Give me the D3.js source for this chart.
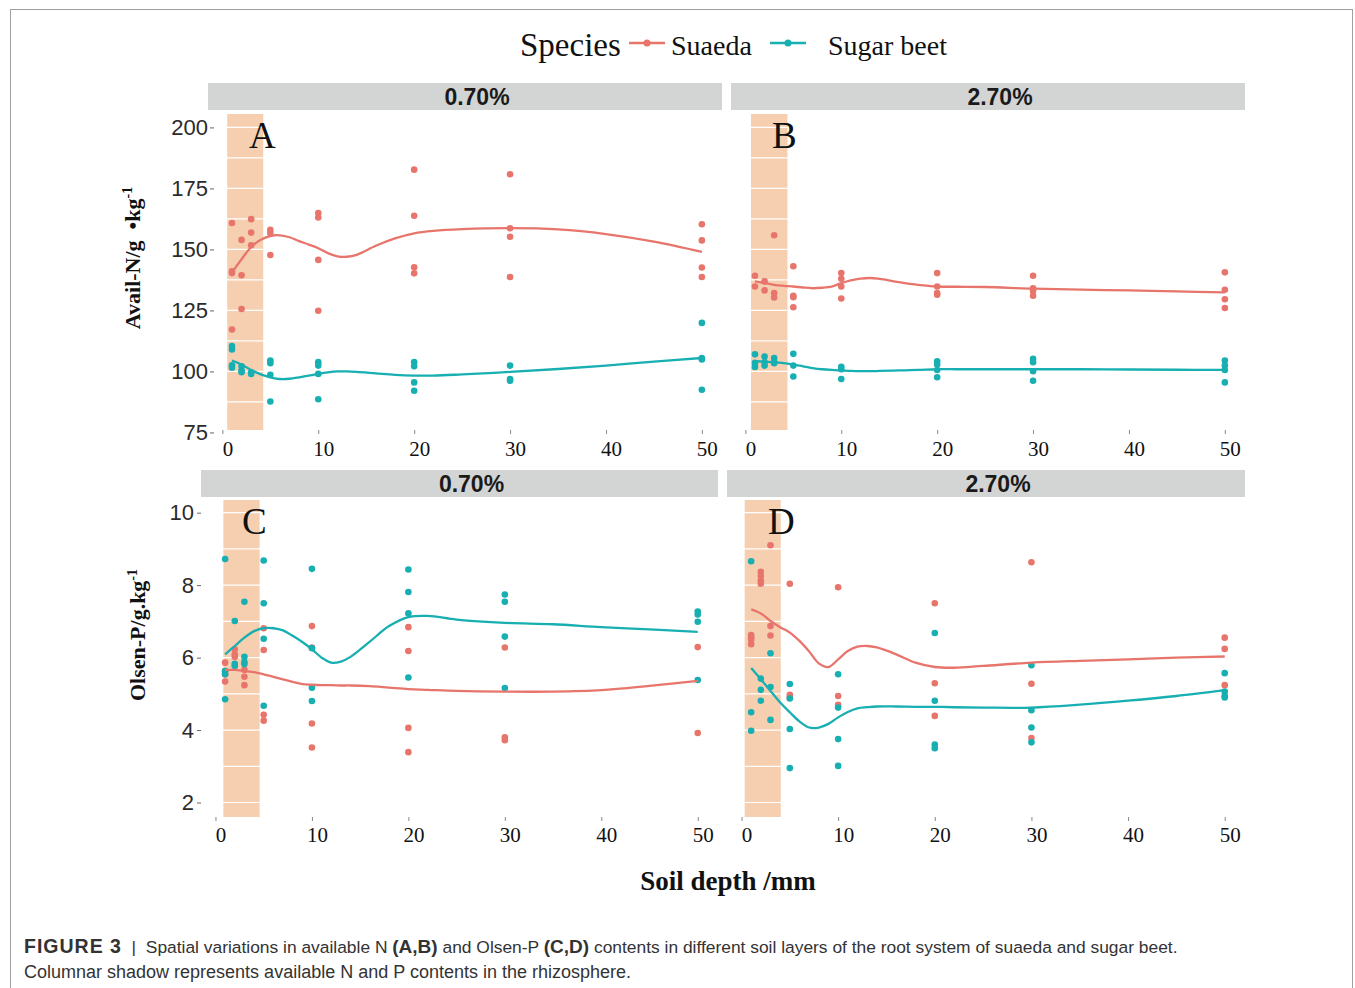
<!DOCTYPE html>
<html>
<head>
<meta charset="utf-8">
<script src="https://cdn.jsdelivr.net/npm/d3@7/dist/d3.min.js"></script>
<style>
  body { margin: 0; background: #fff; }
  text { white-space: pre; }
</style>
</head>
<body>
<svg id="fig" width="1355" height="988"></svg>
<script>
// ---- data ----
var depths = [1, 2, 3, 5, 10, 20, 30, 50];
var salinity = ["0.70%", "2.70%"];
var species = ["Suaeda", "Sugar beet"];
var panelLetters = ["A", "B", "C", "D"];
var xTicks = [0, 10, 20, 30, 40, 50];
var nTicks = [75, 100, 125, 150, 175, 200];
var pTicks = [2, 4, 6, 8, 10];
// rhizosphere shadow (depth range) per panel
var shadeA = [0.5, 4.26], shadeB = [0.58, 4.39], shadeC = [0.82, 4.58], shadeD = [0.33, 4.06];

// replicate measurements, one list per depth
var nSuaeda07 = [[160.8, 140.3, 141.0, 117.2], [153.9, 139.4, 125.6], [162.4, 156.9, 151.7], [158.0, 156.6, 147.7],
  [164.9, 163.1, 145.7, 124.9], [182.7, 163.8, 142.7, 140.2], [180.8, 158.7, 155.2, 138.7], [160.3, 153.7, 142.6, 138.7]];
var nBeet07 = [[110.4, 109.0, 101.5, 102.5], [102.1, 100.4, 99.7], [99.6, 99.0], [104.5, 103.4, 98.6, 87.7],
  [103.8, 102.4, 99.0, 88.6], [103.8, 102.1, 95.5, 92.1], [102.4, 96.9, 96.2], [119.9, 105.5, 104.9, 92.5]];
var nSuaeda27 = [[139.2, 134.8], [136.9, 133.2], [155.8, 132.1, 130.3], [143.1, 131.0, 130.4, 126.3],
  [140.3, 138.0, 134.8, 129.9], [140.3, 134.8, 132.1, 131.4], [139.2, 134.1, 133.0, 131.0], [140.6, 133.5, 129.6, 126.0]];
var nBeet27 = [[107.0, 101.8, 103.5], [106.1, 103.8, 102.4], [105.5, 103.8, 103.4], [107.2, 102.4, 97.9],
  [101.9, 100.9, 96.9], [104.2, 102.8, 100.6, 97.6], [105.2, 103.8, 100.1, 96.2], [104.5, 102.4, 100.6, 95.5]];
var pSuaeda07 = [[5.86, 5.54, 5.34, 5.63], [6.23, 6.09, 6.02], [5.66, 5.47, 5.24], [6.81, 6.21, 4.42, 4.26],
  [6.87, 6.28, 4.18, 3.52], [6.84, 6.18, 4.06, 3.39], [6.28, 3.80, 3.72], [6.29, 3.92]];
var pBeet07 = [[8.72, 5.63, 5.54, 4.85], [7.01, 5.83, 5.77], [7.54, 6.02, 5.88, 5.82], [8.68, 7.50, 6.52, 4.67],
  [8.45, 6.26, 5.17, 4.80], [8.43, 7.81, 7.22, 5.45], [7.74, 7.54, 6.58, 5.16], [7.27, 7.19, 6.99, 5.38]];
var pSuaeda27 = [[6.62, 6.50, 6.37, 6.55], [8.37, 8.25, 8.13, 8.04], [9.10, 6.87, 6.61], [8.04, 4.97, 4.90],
  [7.94, 4.94, 4.70], [7.50, 5.29, 4.39], [8.63, 5.28, 3.78], [6.55, 6.24, 5.24]];
var pBeet27 = [[8.66, 4.49, 3.98], [5.42, 5.11, 4.81], [6.12, 5.19, 4.28], [5.27, 4.87, 4.03, 2.95],
  [5.54, 4.62, 3.75, 3.01], [6.68, 4.81, 3.60, 3.50], [5.79, 4.55, 4.07, 3.66], [5.57, 5.06, 4.94, 4.90]];

// smoothed (loess) curves
var fitDepths = [1, 2, 3, 4, 5, 6, 7, 8, 9, 10, 11, 12, 13, 14, 16, 18, 20, 22, 25, 30, 35, 40, 45, 50];
var nSuaeda07Fit = [140.6, 146, 151, 154, 155.5, 155.8, 155, 153.4, 152, 150.5, 148.5, 147.2, 147, 147.8, 151.5, 154.5, 156.6, 157.6, 158.3, 158.7, 158.2, 156.3, 153.2, 149];
var nBeet07Fit = [104.5, 102.8, 100.6, 98.8, 97.6, 96.9, 97, 97.6, 98.3, 99, 99.6, 100, 100, 99.8, 99.2, 98.6, 98.3, 98.3, 98.8, 99.8, 101, 102.4, 104, 105.5];
var nSuaeda27Fit = [136.9, 136.2, 135.5, 135.1, 134.8, 134.4, 134.1, 134.3, 134.8, 136.2, 137.3, 138, 138.3, 137.9, 136.6, 135.5, 134.8, 134.7, 134.6, 133.9, 133.5, 133.2, 132.8, 132.4];
var nBeet27Fit = [104.2, 104, 103.8, 103.4, 102.8, 102.1, 101.4, 100.9, 100.6, 100.4, 100.2, 100.1, 100.1, 100.2, 100.4, 100.6, 100.9, 100.9, 100.9, 100.9, 100.9, 100.8, 100.7, 100.6];
var pSuaeda07Fit = [5.66, 5.66, 5.63, 5.6, 5.54, 5.47, 5.4, 5.33, 5.27, 5.25, 5.24, 5.24, 5.23, 5.23, 5.21, 5.17, 5.13, 5.11, 5.08, 5.06, 5.06, 5.1, 5.22, 5.36];
var pBeet07Fit = [6.09, 6.32, 6.55, 6.73, 6.81, 6.81, 6.75, 6.6, 6.43, 6.23, 6.0, 5.86, 5.89, 6.02, 6.44, 6.87, 7.12, 7.15, 7.05, 6.96, 6.92, 6.84, 6.78, 6.71];
var pSuaeda27Fit = [7.33, 7.22, 7.01, 6.84, 6.69, 6.46, 6.17, 5.84, 5.74, 5.95, 6.18, 6.3, 6.32, 6.28, 6.09, 5.86, 5.74, 5.72, 5.77, 5.86, 5.91, 5.95, 6.0, 6.03];
var pBeet27Fit = [5.71, 5.4, 5.08, 4.76, 4.49, 4.24, 4.07, 4.07, 4.17, 4.35, 4.5, 4.6, 4.63, 4.65, 4.65, 4.64, 4.64, 4.63, 4.62, 4.62, 4.7, 4.81, 4.94, 5.1];

// ---- look ----
var colors = ["#e8756c", "#17afb1"];
var serif = '"Liberation Serif", "Times New Roman", serif';
var sans = '"Liberation Sans", Arial, sans-serif';
var narrow = '"Liberation Sans Narrow", "Liberation Sans", Arial, sans-serif';

var svg = d3.select("#fig");

// figure frame
svg.append("rect")
  .attr("x", 10.5).attr("y", 9.5).attr("width", 1342).attr("height", 1000)
  .attr("fill", "none").attr("stroke", "#a0a0a0").attr("stroke-width", 1);

var panels = [
  { left: 208, right: 722, top: 114, bottom: 430, strip: 83, yDom: [76, 205.5], ticks: nTicks, shade: shadeA, sal: 0, pts: [nSuaeda07, nBeet07], fit: [nSuaeda07Fit, nBeet07Fit] },
  { left: 731, right: 1245, top: 114, bottom: 430, strip: 83, yDom: [76, 205.5], ticks: nTicks, shade: shadeB, sal: 1, pts: [nSuaeda27, nBeet27], fit: [nSuaeda27Fit, nBeet27Fit] },
  { left: 201, right: 718, top: 500, bottom: 817, strip: 470, yDom: [1.6, 10.35], ticks: pTicks, shade: shadeC, sal: 0, pts: [pSuaeda07, pBeet07], fit: [pSuaeda07Fit, pBeet07Fit] },
  { left: 727, right: 1245, top: 500, bottom: 817, strip: 470, yDom: [1.6, 10.35], ticks: pTicks, shade: shadeD, sal: 1, pts: [pSuaeda27, pBeet27], fit: [pSuaeda27Fit, pBeet27Fit] }
];

panels.forEach(function (p, i) {
  var x = d3.scaleLinear().domain([-1.5, 52.1]).range([p.left, p.right]);
  var y = d3.scaleLinear().domain(p.yDom).range([p.bottom, p.top]);
  var g = svg.append("g");
  var topRow = p.top < 300;

  // strip
  g.append("rect")
    .attr("x", p.left).attr("y", p.strip)
    .attr("width", p.right - p.left).attr("height", 27)
    .attr("fill", "#d3d4d4");
  g.append("text")
    .attr("x", (p.left + p.right) / 2 + 12).attr("y", p.strip + 22)
    .attr("text-anchor", "middle")
    .attr("font-family", narrow).attr("font-weight", "bold").attr("font-size", 23)
    .attr("fill", "#1a1a1a")
    .text(salinity[p.sal]);

  // rhizosphere shadow
  g.append("rect")
    .attr("x", x(p.shade[0])).attr("y", p.top)
    .attr("width", x(p.shade[1]) - x(p.shade[0])).attr("height", p.bottom - p.top)
    .attr("fill", "#f6cfb0");

  // white grid (only shows on the shadow)
  var step = p.ticks[1] - p.ticks[0];
  var gridY = [];
  p.ticks.forEach(function (t) { gridY.push(t); gridY.push(t + step / 2); });
  gridY = gridY.filter(function (v) { return v > p.yDom[0] && v < p.yDom[1]; });
  g.selectAll(".gy").data(gridY).enter().append("line")
    .attr("x1", p.left).attr("x2", p.right)
    .attr("y1", function (d) { return y(d); }).attr("y2", function (d) { return y(d); })
    .attr("stroke", "#fff").attr("stroke-width", 1.2);

  // y axis only on the left column
  if (i % 2 === 0) {
    var ya = g.append("g").attr("transform", "translate(" + (topRow ? p.left + 6 : p.left) + ",0)")
      .call(d3.axisLeft(y).tickValues(p.ticks).tickSize(4).tickPadding(topRow ? 2 : 3));
    ya.select(".domain").remove();
    ya.selectAll("line").attr("stroke", "#666");
    ya.selectAll("text").attr("font-family", sans).attr("font-size", 22).attr("fill", "#2b2b2b");
  }

  var xa = g.append("g").attr("transform", "translate(0," + p.bottom + ")")
    .call(d3.axisBottom(x).tickValues(xTicks).tickSize(4).tickPadding(topRow ? 7 : 6));
  xa.select(".domain").remove();
  xa.selectAll("line").attr("stroke", "#888");
  xa.selectAll("text").attr("font-family", serif).attr("font-size", 21).attr("fill", "#111")
    .attr("dx", 5);

  // points
  p.pts.forEach(function (series, s) {
    var flat = [];
    series.forEach(function (vals, k) {
      vals.forEach(function (v) { flat.push([depths[k], v]); });
    });
    g.selectAll(".pt" + s).data(flat).enter().append("circle")
      .attr("cx", function (d) { return x(d[0]); })
      .attr("cy", function (d) { return y(d[1]); })
      .attr("r", 3.3)
      .attr("fill", colors[s]);
  });

  // smooth lines
  var line = d3.line()
    .x(function (d, k) { return x(fitDepths[k]); })
    .y(function (d) { return y(d); })
    .curve(d3.curveCatmullRom);
  p.fit.forEach(function (f, s) {
    g.append("path").attr("d", line(f))
      .attr("fill", "none").attr("stroke", colors[s]).attr("stroke-width", 2.3);
  });

  // panel letter
  g.append("text")
    .attr("x", p.left + 41).attr("y", p.top + 34)
    .attr("font-family", serif).attr("font-size", 37).attr("fill", "#111")
    .text(panelLetters[i]);
});

// y axis titles
var t1 = svg.append("text")
  .attr("transform", "translate(140,258) rotate(-90)")
  .attr("text-anchor", "middle")
  .attr("font-family", serif).attr("font-weight", "bold").attr("font-size", 22).attr("fill", "#111");
t1.append("tspan").text("Avail-N/g  \u2022kg");
t1.append("tspan").attr("dy", -8).attr("font-size", 14).text("-1");

var t2 = svg.append("text")
  .attr("transform", "translate(145,635) rotate(-90)")
  .attr("text-anchor", "middle")
  .attr("font-family", serif).attr("font-weight", "bold").attr("font-size", 22).attr("fill", "#111");
t2.append("tspan").text("Olsen-P/g.kg");
t2.append("tspan").attr("dy", -8).attr("font-size", 14).text("-1");

// x axis title
svg.append("text")
  .attr("x", 728).attr("y", 890)
  .attr("text-anchor", "middle")
  .attr("font-family", serif).attr("font-weight", "bold").attr("font-size", 27).attr("fill", "#111")
  .text("Soil depth /mm");

// legend
var legend = svg.append("g");
legend.append("text").attr("x", 520).attr("y", 56)
  .attr("font-family", serif).attr("font-size", 33).attr("fill", "#111").text("Species");
var keyX = [629, 770], labX = [671, 828];
species.forEach(function (s, k) {
  legend.append("line")
    .attr("x1", keyX[k]).attr("x2", keyX[k] + 36).attr("y1", 43).attr("y2", 43)
    .attr("stroke", colors[k]).attr("stroke-width", 2.5);
  legend.append("circle").attr("cx", keyX[k] + 18).attr("cy", 43).attr("r", 3.5).attr("fill", colors[k]);
  legend.append("text").attr("x", labX[k]).attr("y", 55)
    .attr("font-family", serif).attr("font-size", 28).attr("fill", "#111").text(s);
});

// caption
var cap = svg.append("text").attr("x", 24).attr("y", 953)
  .attr("font-family", sans).attr("font-size", 17.4).attr("fill", "#333");
cap.append("tspan").attr("font-weight", "bold").attr("font-size", 19.5).attr("letter-spacing", 1).text("FIGURE 3");
cap.append("tspan").text("  |  Spatial variations in available N ");
cap.append("tspan").attr("font-weight", "bold").attr("font-size", 19).text("(A,B)");
cap.append("tspan").text(" and Olsen-P ");
cap.append("tspan").attr("font-weight", "bold").attr("font-size", 19).text("(C,D)");
cap.append("tspan").text(" contents in different soil layers of the root system of suaeda and sugar beet.");
svg.append("text").attr("x", 24).attr("y", 978)
  .attr("font-family", sans).attr("font-size", 18).attr("fill", "#333")
  .text("Columnar shadow represents available N and P contents in the rhizosphere.");
</script>
</body>
</html>
